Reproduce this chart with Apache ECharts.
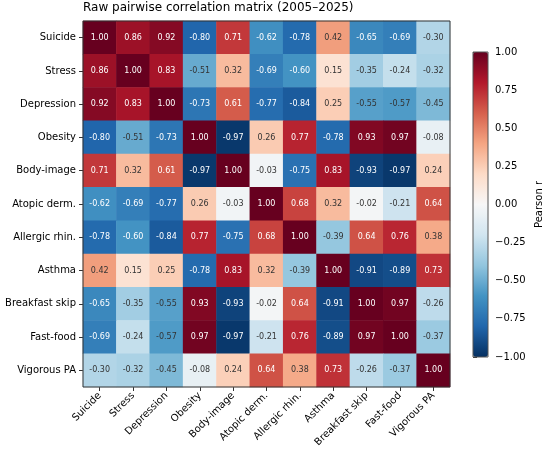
<!DOCTYPE html>
<html>
<head>
<meta charset="utf-8">
<script src="https://cdn.jsdelivr.net/npm/echarts@6/dist/echarts.min.js"></script>
<style>
  html, body { margin: 0; padding: 0; background: #fff; }
  #chart { width: 550px; height: 458px; }
</style>
</head>
<body>
<div id="chart"></div>
<script>
// variables, same order on both axes
var labels = ['Suicide', 'Stress', 'Depression', 'Obesity', 'Body-image', 'Atopic derm.',
    'Allergic rhin.', 'Asthma', 'Breakfast skip', 'Fast-food', 'Vigorous PA'];

// correlation rows
var rSuicide    = [1.00, 0.86, 0.92, -0.80, 0.71, -0.62, -0.78, 0.42, -0.65, -0.69, -0.30];
var rStress     = [0.86, 1.00, 0.83, -0.51, 0.32, -0.69, -0.60, 0.15, -0.35, -0.24, -0.32];
var rDepression = [0.92, 0.83, 1.00, -0.73, 0.61, -0.77, -0.84, 0.25, -0.55, -0.57, -0.45];
var rObesity    = [-0.80, -0.51, -0.73, 1.00, -0.97, 0.26, 0.77, -0.78, 0.93, 0.97, -0.08];
var rBodyImage  = [0.71, 0.32, 0.61, -0.97, 1.00, -0.03, -0.75, 0.83, -0.93, -0.97, 0.24];
var rAtopic     = [-0.62, -0.69, -0.77, 0.26, -0.03, 1.00, 0.68, 0.32, -0.02, -0.21, 0.64];
var rAllergic   = [-0.78, -0.60, -0.84, 0.77, -0.75, 0.68, 1.00, -0.39, 0.64, 0.76, 0.38];
var rAsthma     = [0.42, 0.15, 0.25, -0.78, 0.83, 0.32, -0.39, 1.00, -0.91, -0.89, 0.73];
var rBreakfast  = [-0.65, -0.35, -0.55, 0.93, -0.93, -0.02, 0.64, -0.91, 1.00, 0.97, -0.26];
var rFastFood   = [-0.69, -0.24, -0.57, 0.97, -0.97, -0.21, 0.76, -0.89, 0.97, 1.00, -0.37];
var rVigorous   = [-0.30, -0.32, -0.45, -0.08, 0.24, 0.64, 0.38, 0.73, -0.26, -0.37, 1.00];

var matrix = [rSuicide, rStress, rDepression, rObesity, rBodyImage, rAtopic,
    rAllergic, rAsthma, rBreakfast, rFastFood, rVigorous];

// RdBu_r
var rdbu = ['#053061', '#2166ac', '#4393c3', '#92c5de', '#d1e5f0', '#f7f7f7',
    '#fddbc7', '#f4a582', '#d6604d', '#b2182b', '#67001f'];

var FONT = 'DejaVu Sans';

var cells = [];
matrix.forEach(function (row, i) {
    row.forEach(function (v, j) {
        cells.push({
            value: [j, i, v],
            label: { color: Math.abs(v) >= 0.58 ? '#ffffff' : '#333333' }
        });
    });
});

var chart = echarts.init(document.getElementById('chart'));
chart.setOption({
    animation: false,
    backgroundColor: '#fff',
    textStyle: { fontFamily: FONT },
    title: {
        text: 'Raw pairwise correlation matrix (2005\u20132025)',
        left: 83,
        top: 2,
        padding: 0,
        textStyle: { fontFamily: FONT, fontSize: 12, fontWeight: 'normal', color: '#000' }
    },
    grid: [
        { left: 83, top: 21, width: 367, height: 366, show: true, z: 10,
          backgroundColor: 'transparent', borderColor: '#333', borderWidth: 1 },
        { left: 473, top: 52, width: 15, height: 305, show: true, z: 10,
          backgroundColor: 'transparent', borderColor: '#555', borderWidth: 1 }
    ],
    xAxis: [
        {
            type: 'category', gridIndex: 0, data: labels, position: 'bottom',
            axisLine: { show: false },
            axisTick: { show: true, alignWithLabel: true, length: 4, lineStyle: { color: '#333' } },
            axisLabel: { rotate: 45, fontSize: 10, color: '#000', fontFamily: FONT, margin: 7, interval: 0 },
            splitLine: { show: false }
        },
        { type: 'value', gridIndex: 1, show: false, min: 0, max: 1 }
    ],
    yAxis: [
        {
            type: 'category', gridIndex: 0, data: labels, inverse: true,
            axisLine: { show: false },
            axisTick: { show: true, alignWithLabel: true, length: 4, lineStyle: { color: '#333' } },
            axisLabel: { fontSize: 10, color: '#000', fontFamily: FONT, margin: 7, interval: 0 },
            splitLine: { show: false }
        },
        {
            type: 'value', gridIndex: 1, position: 'right', min: -1, max: 1, interval: 0.25,
            name: 'Pearson r', nameLocation: 'middle', nameGap: 46, nameRotate: 90,
            nameTextStyle: { fontSize: 10, color: '#000', fontFamily: FONT },
            axisLine: { show: false },
            axisTick: { show: true, length: 4, lineStyle: { color: '#333' } },
            axisLabel: {
                fontSize: 10, color: '#000', fontFamily: FONT, margin: 7,
                formatter: function (v) { return v.toFixed(2).replace('-', '\u2212'); }
            },
            splitLine: { show: false }
        }
    ],
    visualMap: {
        type: 'continuous', min: -1, max: 1, seriesIndex: 0, dimension: 2,
        calculable: false, orient: 'vertical',
        left: 473, top: 52, itemWidth: 15, itemHeight: 305, padding: 0,
        text: null, showLabel: false,
        inRange: { color: rdbu }
    },
    series: [{
        type: 'heatmap',
        xAxisIndex: 0, yAxisIndex: 0,
        data: cells,
        label: {
            show: true, fontSize: 8, fontFamily: FONT,
            formatter: function (p) { return p.value[2].toFixed(2); }
        },
        itemStyle: { borderWidth: 0 },
        emphasis: { disabled: true }
    }]
});
</script>
</body>
</html>
